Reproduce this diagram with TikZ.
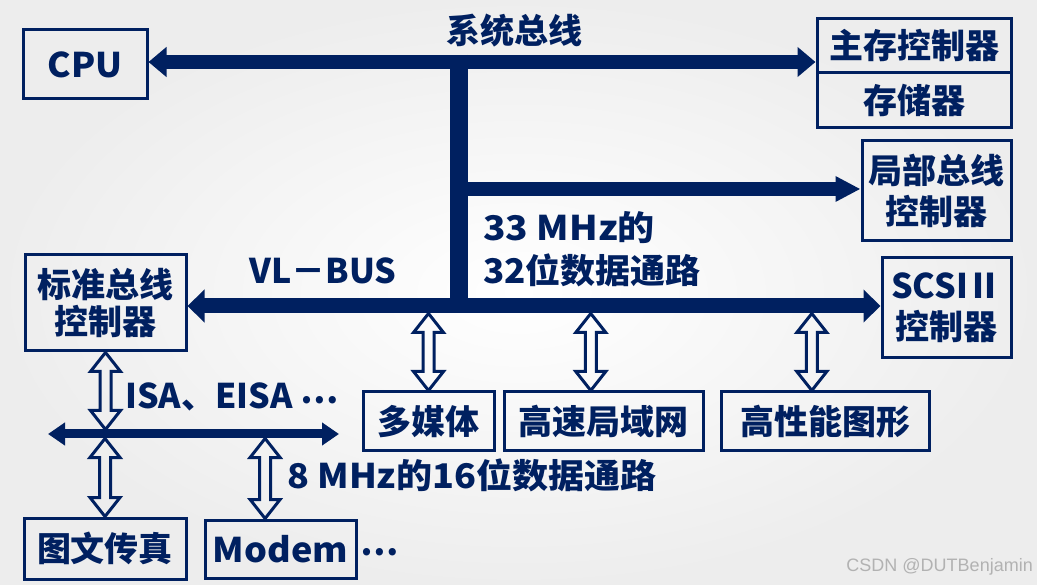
\documentclass[tikz,border=0pt]{standalone}
\usepackage{graphicx}
\usepackage{fontspec}
\newfontfamily\cjk{Noto Sans CJK SC}
\newfontfamily\wmfont{Liberation Sans}
\usetikzlibrary{arrows.meta,calc}
\definecolor{navy}{RGB}{0,32,96}
\newcommand\hollowarr[2]{%
  \draw[hol] let \p1=#1, \p2=#2 in
    (\x1,\y1) -- (\x1+15pt,\y1-19pt) -- (\x1+5.5pt,\y1-19pt) -- (\x1+5.5pt,\y2+19pt)
    -- (\x1+15pt,\y2+19pt) -- (\x1,\y2) -- (\x1-15pt,\y2+19pt) -- (\x1-5.5pt,\y2+19pt)
    -- (\x1-5.5pt,\y1-19pt) -- (\x1-15pt,\y1-19pt) -- cycle;}
\begin{document}
\begin{tikzpicture}[x=1pt,y=-1pt,
  every node/.style={font=\cjk\bfseries\fontsize{34}{41}\selectfont, text=navy, inner sep=0pt},
  box/.style={draw=navy, line width=3pt, align=center},
  hol/.style={draw=navy, line width=3pt, line join=miter},
  bigbus/.style={draw=navy, line width=#1}]
\shade[inner color=white, outer color=gray!14] (0,0) rectangle (1037,585);
\useasboundingbox (0,0) rectangle (1037,585);

% boxes
\node[box, minimum width=124, minimum height=69] (cpu) at (85,64.5) {\scalebox{1.04}[1]{CPU}};
\node[box, minimum width=194, minimum height=54] (memctl) at (914,46) {主存控制器};
\node[box, minimum width=194, minimum height=55] (mem) at (914,100.5) {存储器};
\node[box, minimum width=149, minimum height=100] (lbc) at (936.5,191) {局部总线\\控制器};
\node[box, minimum width=129, minimum height=100] (scsi) at (946.5,308) {SCSIⅡ\\控制器};
\node[box, minimum width=161, minimum height=96] (std) at (105.5,303) {标准总线\\[-4pt]控制器};
\node[box, minimum width=131, minimum height=59] (mm) at (428.5,421.5) {多媒体};
\node[box, minimum width=199, minimum height=59] (lan) at (603.5,421.5) {高速局域网};
\node[box, minimum width=208, minimum height=59] (gfx) at (825,421.5) {高性能图形};
\node[box, minimum width=162, minimum height=61] (fax) at (105,548.5) {图文传真};
\node[box, minimum width=151, minimum height=58] (modem) at (280.5,549) {\scalebox{1.06}[1]{Modem}};

% labels
\node (sys) at (514,31) {系统总线};
\node[anchor=west] (t33) at (483,228) {\scalebox{1.09}[1]{33 MHz的}};
\node[anchor=west] (t32) at (483,270) {\scalebox{1.03}[1]{32位数据通路}};
\node (vlb) at (323,271) {VL－BUS};
\node[anchor=west] (isa) at (125,397) {ISA、EISA \raisebox{5pt}{⋯}};
\node[anchor=west] (t8) at (287,475) {\scalebox{1.06}[1]{8 MHz的16位数据通路}};
\node (dots) at (380,552) {⋯};
\node[font=\wmfont\fontsize{18}{20}\selectfont, text=gray!60, anchor=east] (wm) at (1033,567) {CSDN @DUTBenjamin};

% buses
\coordinate (j1) at (459,62);
\coordinate (j2) at (459,189);
\coordinate (j3) at (459,306);
\coordinate (isaL) at (48,434);
\coordinate (isaR) at (339,434);
\draw[bigbus=18pt] ([yshift=7pt]j1) -- ([yshift=-7.5pt]j3);
\draw[bigbus=14pt, {Triangle[length=18pt,width=29pt]}-{Triangle[length=18pt,width=29pt]}, navy]
  (cpu.east |- j1) -- (memctl.west |- j1);
\draw[bigbus=14pt, -{Triangle[length=25pt,width=24pt]}, navy] (j2) -- (lbc.west |- j2);
\draw[bigbus=15pt, {Triangle[length=17pt,width=32pt]}-{Triangle[length=17pt,width=32pt]}, navy]
  (std.east |- j3) -- (scsi.west |- j3);
\draw[bigbus=9pt, {Triangle[length=17pt,width=22pt]}-{Triangle[length=17pt,width=22pt]}, navy]
  (isaL) -- (isaR);

% hollow double arrows
\coordinate (mdt) at ($(modem.north west)!0.4!(modem.north east)$);
\coordinate (lant) at ($(lan.north west)!0.437!(lan.north east)$);
\coordinate (gfxt) at ($(gfx.north west)!0.4375!(gfx.north east)$);
\hollowarr{(std.south)}{($(std.south |- isaL)+(0,-4.5)$)}
\hollowarr{($(fax.north |- isaL)+(0,4.5)$)}{(fax.north)}
\hollowarr{($(mdt |- isaL)+(0,4.5)$)}{(mdt)}
\hollowarr{($(mm.north |- j3)+(0,7.5)$)}{(mm.north)}
\hollowarr{($(lant |- j3)+(0,7.5)$)}{(lant)}
\hollowarr{($(gfxt |- j3)+(0,7.5)$)}{(gfxt)}
\end{tikzpicture}
\end{document}
